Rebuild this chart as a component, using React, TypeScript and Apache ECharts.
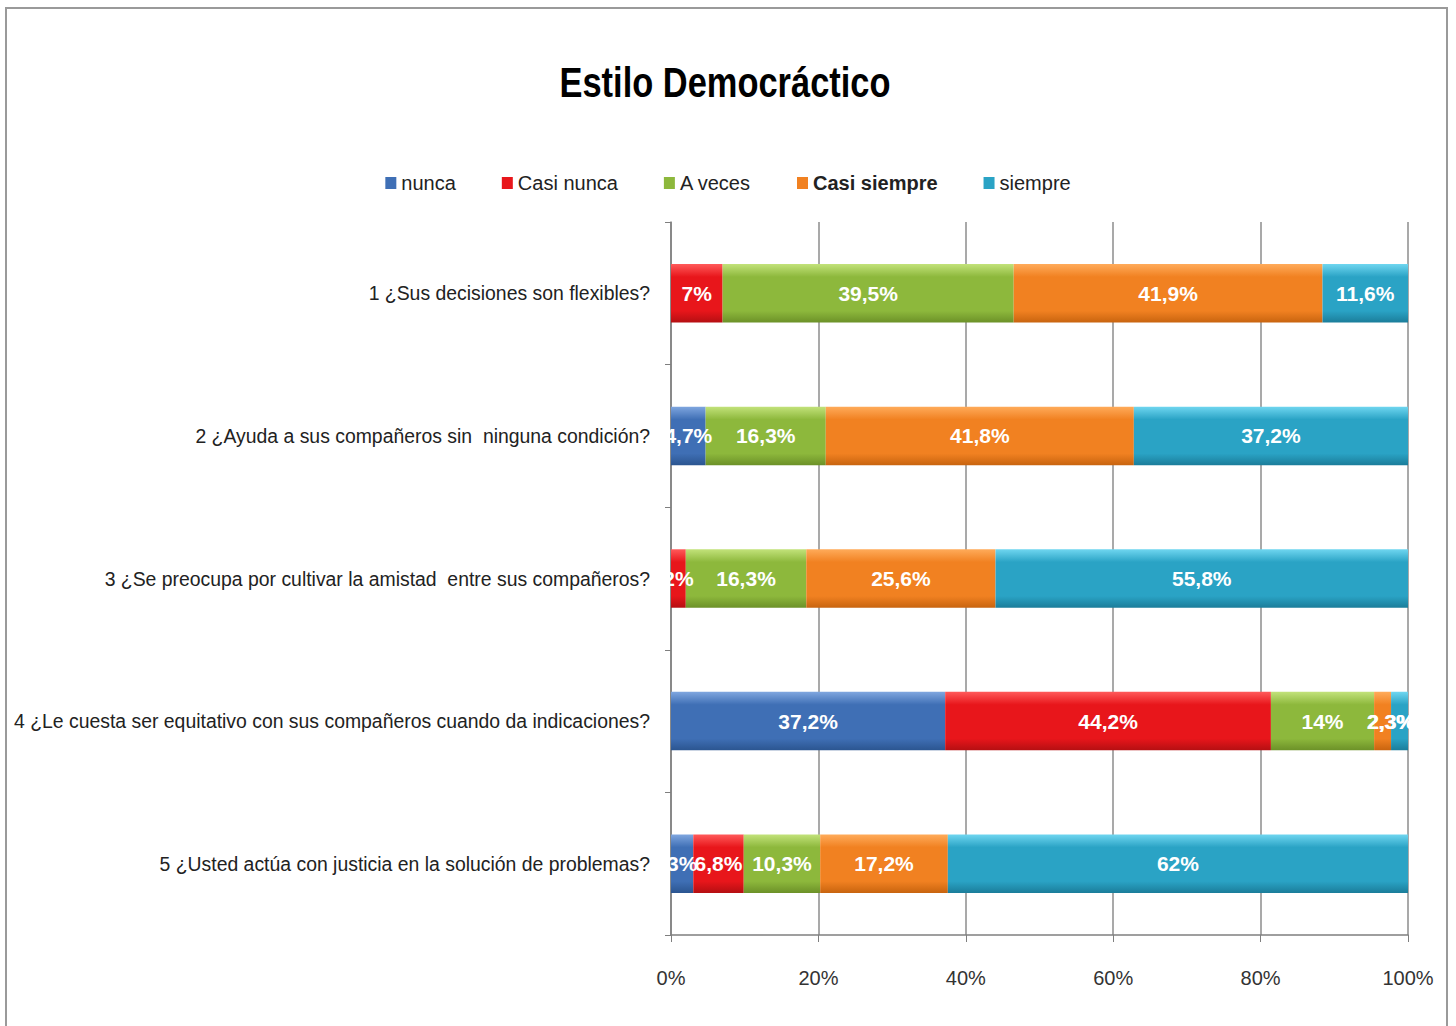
import React, { useEffect, useRef } from "react";
import * as echarts from "echarts";

const categories = [
  "1 ¿Sus decisiones son flexibles?",
  "2 ¿Ayuda a sus compañeros sin  ninguna condición?",
  "3 ¿Se preocupa por cultivar la amistad  entre sus compañeros?",
  "4 ¿Le cuesta ser equitativo con sus compañeros cuando da indicaciones?",
  "5 ¿Usted actúa con justicia en la solución de problemas?",
];
const seriesNames = ["nunca", "Casi nunca", "A veces", "Casi siempre", "siempre"];
const nunca = [0, 4.7, 0, 37.2, 3];
const casiNunca = [7, 0, 2, 44.2, 6.8];
const aVeces = [39.5, 16.3, 16.3, 14, 10.3];
const casiSiempre = [41.9, 41.8, 25.6, 2.3, 17.2];
const siempre = [11.6, 37.2, 55.8, 2.3, 62];
const xTicks = ["0%", "20%", "40%", "60%", "80%", "100%"];
const chartTitle = "Estilo Democráctico";

const seriesValues = [nunca, casiNunca, aVeces, casiSiempre, siempre];
const baseColors = [
  ["#7fa6df", "#3f6fb5", "#2b5590"],
  ["#ff5a5a", "#e8161b", "#b50f12"],
  ["#c2e27a", "#8db83c", "#6c9128"],
  ["#ffab5a", "#f18121", "#c8640f"],
  ["#6fd6f0", "#2aa3c5", "#1b7d9a"],
];
const legendColors = ["#3f6fb5", "#e8161b", "#8db83c", "#f18121", "#2aa3c5"];

const FONT = "'Liberation Sans', Arial, sans-serif";

export default function App() {
  const ref = useRef<HTMLDivElement>(null);
  useEffect(() => {
    if (!ref.current) return;
    const chart = echarts.init(ref.current, undefined, { renderer: "svg" });
    const rowSums = categories.map((_, i) =>
      seriesValues.reduce((s, arr) => s + arr[i], 0)
    );
    const series = seriesNames.map((name, si) => ({
      name,
      type: "bar",
      stack: "total",
      barCategoryGap: "59%",
      itemStyle: {
        color: new echarts.graphic.LinearGradient(0, 0, 0, 1, [
          { offset: 0, color: baseColors[si][0] },
          { offset: 0.22, color: baseColors[si][1] },
          { offset: 0.8, color: baseColors[si][1] },
          { offset: 1, color: baseColors[si][2] },
        ]),
      },
      label: {
        show: true,
        position: "inside",
        color: "#ffffff",
        fontFamily: FONT,
        fontWeight: "bold",
        fontSize: 21,
        formatter: (p: any) => {
          const v = seriesValues[si][p.dataIndex];
          if (!v) return "";
          return String(v).replace(".", ",") + "%";
        },
      },
      data: seriesValues[si].map((v, i) => {
        const item: any = { value: (v / rowSums[i]) * 100 };
        // row 4: the two tiny 2,3% labels sit on top of each other, as in the source
        if (i === 3 && si === 3) item.label = { offset: [8, 0] };
        if (i === 3 && si === 4) item.label = { offset: [-8, 0] };
        return item;
      }),
    }));

    chart.setOption({
      animation: false,
      backgroundColor: "#ffffff",
      legend: {
        top: 168,
        left: "center",
        itemWidth: 11,
        itemHeight: 12,
        itemGap: 46,
        icon: "rect",
        textStyle: { fontFamily: FONT, fontSize: 20, color: "#222" },
        data: seriesNames.map((n, i) => ({
          name: n,
          itemStyle: { color: legendColors[i] },
          textStyle:
            i === 3
              ? { fontWeight: "bold", fontFamily: FONT, fontSize: 20, color: "#222" }
              : undefined,
        })),
      },
      graphic: [
        {
          type: "rect",
          shape: { x: 6, y: 8, width: 1441, height: 1030 },
          style: { fill: "none", stroke: "#9a9a9a", lineWidth: 2 },
          z: 100,
        },
        {
          type: "text",
          x: 725,
          y: 82,
          scaleX: 0.82,
          style: {
            text: chartTitle,
            fontFamily: FONT,
            fontWeight: "bold",
            fontSize: 42,
            fill: "#000",
            align: "center",
            verticalAlign: "middle",
          },
        },
      ],
      grid: {
        left: 671,
        right: 48,
        top: 222,
        bottom: 91,
        containLabel: false,
        outerBoundsMode: "none",
      },
      xAxis: {
        type: "value",
        min: 0,
        max: 100,
        interval: 20,
        axisLine: { show: true, lineStyle: { color: "#7f7f7f", width: 1.5 } },
        axisTick: { show: true, length: 7, lineStyle: { color: "#7f7f7f" } },
        splitLine: { show: true, lineStyle: { color: "#8c8c8c", width: 1.5 } },
        axisLabel: {
          margin: 33,
          fontFamily: FONT,
          fontSize: 20,
          color: "#333",
          formatter: (v: number) => xTicks[Math.round(v / 20)],
        },
      },
      yAxis: {
        type: "category",
        inverse: true,
        data: categories,
        axisLine: { show: true, lineStyle: { color: "#7f7f7f", width: 1.5 } },
        axisTick: { show: true, length: 6, lineStyle: { color: "#7f7f7f" } },
        axisLabel: {
          margin: 21,
          fontFamily: FONT,
          fontSize: 19.4,
          color: "#222",
        },
      },
      series,
    });
    return () => chart.dispose();
  }, []);
  return (
    <div
      ref={ref}
      style={{ position: "fixed", left: 0, top: 0, width: 1456, height: 1026 }}
    />
  );
}
